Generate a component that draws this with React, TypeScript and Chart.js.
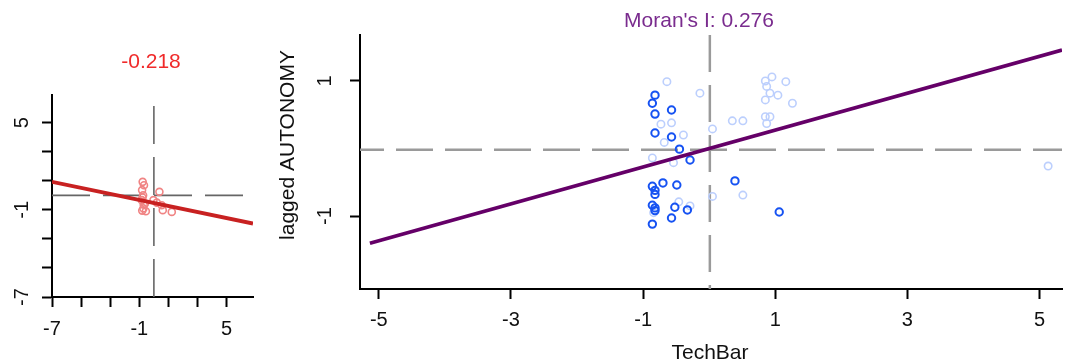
import React, { useEffect, useRef } from "react";
import { Chart, registerables } from "chart.js";

Chart.register(...registerables);

const FONT = '"Liberation Sans", Arial, Helvetica, sans-serif';

// ---------------- Left panel (local statistic, -0.218) ----------------
const leftTitle = "-0.218";
const leftPointsX = [-0.77, -0.68, -0.81, -0.74, 0.38, -0.83, -0.61, -0.72, -0.03, 0.54, 1.23, 0.61, -0.8, -0.55, -0.7, 0.2, -0.78];
const leftPointsY = [0.93, 0.7, 0.36, 0.01, 0.24, -0.33, -0.56, -0.9, -0.33, -0.68, -1.14, -1.02, -1.05, -1.1, -0.65, -0.5, -0.15];
const leftFitX = [-7, 6.81];
const leftFitY = [0.93, -1.94];
const leftXRange = [-7, 6.81];
const leftYRange = [-7, 6.91];
const leftMean = [0, 0];
const leftTicks = [-7, -5, -3, -1, 1, 3, 5];
const leftTickLabels = ["-7", "-1", "5"];

// ---------------- Right panel (Moran scatter) ----------------
const rightTitle = "Moran's I: 0.276";
const rightXLabel = "TechBar";
const rightYLabel = "lagged AUTONOMY";
const darkX = [-0.82, -0.86, -0.82, -0.57, -0.82, -0.57, -0.45, -0.29, -0.86, -0.82, -0.82, -0.7, -0.49, -0.86, -0.82, -0.82, -0.52, -0.33, -0.57, -0.86, 0.39, 1.06];
const darkY = [0.79, 0.67, 0.51, 0.57, 0.23, 0.17, -0.01, -0.17, -0.56, -0.62, -0.68, -0.51, -0.54, -0.84, -0.88, -0.92, -0.87, -0.91, -1.03, -1.12, -0.48, -0.94];
const lightX = [-0.64, -0.14, -0.73, -0.57, -0.39, -0.68, 0.05, -0.86, -0.54, 0.05, 0.51, -0.46, -0.29, -0.84, 0.85, 0.95, 1.16, 0.87, 0.92, 1.04, 0.85, 1.26, 0.85, 0.92, 0.87, 0.35, 0.51, 5.13];
const lightY = [0.99, 0.82, 0.36, 0.38, 0.2, 0.09, 0.29, -0.14, -0.21, -0.71, -0.69, -0.79, -0.85, -0.95, 1.0, 1.06, 0.99, 0.92, 0.82, 0.79, 0.72, 0.67, 0.47, 0.47, 0.37, 0.41, 0.41, -0.26];
const rightFitX = [-5.135, 5.34];
const rightFitY = [-1.404, 1.459];
const rightXRange = [-5.285, 5.34];
const rightYRange = [-2.081, 1.681];
const rightMean = [0.01, -0.02];
const rightXTicks = [-5, -3, -1, 1, 3, 5];
const rightXTickLabels = ["-5", "-3", "-1", "1", "3", "5"];
const rightYTicks = [-1, 1];
const rightYTickLabels = ["-1", "1"];

type TextSpec = {
  title: string;
  titleColor: string;
  titleX: number;
  titleY: number;
  yTicks: number[];
  yTickLabels: string[];
  yTickX: number;
  yLabel?: string;
  yLabelX?: number;
  yLabelY?: number;
  xLabel?: string;
  xLabelX?: number;
  xLabelY?: number;
};

function textPlugin(spec: TextSpec) {
  return {
    id: "rText",
    afterDraw(chart: any) {
      const ctx = chart.ctx as CanvasRenderingContext2D;
      const yScale = chart.scales.y;
      ctx.save();
      ctx.textAlign = "center";
      ctx.textBaseline = "middle";
      ctx.fillStyle = spec.titleColor;
      ctx.font = `21px ${FONT}`;
      ctx.fillText(spec.title, spec.titleX, spec.titleY);
      ctx.fillStyle = "#111";
      ctx.font = `20px ${FONT}`;
      spec.yTicks.forEach((v) => {
        const lbl = spec.yTickLabels.includes(String(v)) ? String(v) : "";
        if (!lbl) return;
        const py = yScale.getPixelForValue(v);
        ctx.save();
        ctx.translate(spec.yTickX, py);
        ctx.rotate(-Math.PI / 2);
        ctx.fillText(lbl, 0, 0);
        ctx.restore();
      });
      ctx.font = `21px ${FONT}`;
      if (spec.yLabel) {
        ctx.save();
        ctx.translate(spec.yLabelX!, spec.yLabelY!);
        ctx.rotate(-Math.PI / 2);
        ctx.fillText(spec.yLabel, 0, 0);
        ctx.restore();
      }
      if (spec.xLabel) {
        ctx.fillText(spec.xLabel, spec.xLabelX!, spec.xLabelY!);
      }
      ctx.restore();
    },
  };
}

function pts(xs: number[], ys: number[]) {
  return xs.map((x, i) => ({ x, y: ys[i] }));
}

function axisOpts(
  range: number[],
  ticks: number[],
  labels: string[],
  fitSize: number,
  horizontal: boolean,
  showLabels: boolean,
  padding: number
) {
  return {
    type: "linear",
    min: range[0],
    max: range[1],
    afterBuildTicks: (s: any) => {
      s.ticks = ticks.map((v) => ({ value: v }));
    },
    afterFit: (s: any) => {
      if (horizontal) s.height = fitSize;
      else s.width = fitSize;
    },
    ticks: {
      display: showLabels,
      autoSkip: false,
      maxRotation: 0,
      minRotation: 0,
      padding,
      color: "#111",
      font: { family: FONT, size: 20 },
      callback: (v: any) => (labels.includes(String(v)) ? String(v) : ""),
    },
    grid: {
      display: true,
      drawOnChartArea: false,
      drawTicks: true,
      tickLength: 10,
      tickWidth: 2,
      tickColor: "#000",
      color: "#000",
    },
    border: { display: true, color: "#000", width: 2 },
  };
}

function LeftPanel() {
  const ref = useRef<HTMLCanvasElement>(null);
  useEffect(() => {
    if (!ref.current) return;
    const chart = new Chart(ref.current, {
      type: "scatter",
      data: {
        datasets: [
          {
            data: pts(leftFitX, leftFitY),
            showLine: true,
            borderColor: "#C82121",
            borderWidth: 3.8,
            pointRadius: 0,
            order: 0,
          },
          {
            data: pts(leftPointsX, leftPointsY),
            borderColor: "#F08484",
            backgroundColor: "rgba(255,255,255,0)",
            pointRadius: 3.5,
            borderWidth: 1.6,
            order: 1,
          },
          {
            data: [
              { x: leftMean[0], y: leftYRange[0] },
              { x: leftMean[0], y: leftYRange[1] },
            ],
            showLine: true,
            borderColor: "#666",
            borderWidth: 1.6,
            borderDash: [38, 13],
            pointRadius: 0,
            order: 2,
          },
          {
            data: [
              { x: leftXRange[0], y: leftMean[1] },
              { x: leftXRange[1], y: leftMean[1] },
            ],
            showLine: true,
            borderColor: "#666",
            borderWidth: 1.6,
            borderDash: [38, 13],
            pointRadius: 0,
            order: 2,
          },
        ],
      } as any,
      options: {
        animation: false,
        responsive: false,
        maintainAspectRatio: false,
        layout: { padding: { left: 0, right: 17, top: 95, bottom: 0 } },
        plugins: { legend: { display: false }, tooltip: { enabled: false }, title: { display: false } },
        scales: {
          x: axisOpts(leftXRange, leftTicks, leftTickLabels, 67, true, true, 10),
          y: axisOpts(leftYRange, leftTicks, leftTickLabels, 52, false, false, 0),
        } as any,
      },
      plugins: [
        textPlugin({
          title: leftTitle,
          titleColor: "#F02A2A",
          titleX: 151,
          titleY: 62,
          yTicks: leftTicks,
          yTickLabels: leftTickLabels,
          yTickX: 22,
        }),
      ],
    });
    return () => chart.destroy();
  }, []);
  return (
    <canvas
      ref={ref}
      width={270}
      height={364}
      style={{ position: "absolute", left: 0, top: 0, width: 270, height: 364, display: "block" }}
    />
  );
}

function RightPanel() {
  const ref = useRef<HTMLCanvasElement>(null);
  useEffect(() => {
    if (!ref.current) return;
    const chart = new Chart(ref.current, {
      type: "scatter",
      data: {
        datasets: [
          {
            data: pts(rightFitX, rightFitY),
            showLine: true,
            borderColor: "#650068",
            borderWidth: 3.8,
            pointRadius: 0,
            order: 0,
          },
          {
            data: pts(darkX, darkY),
            borderColor: "#1652F2",
            backgroundColor: "rgba(255,255,255,0)",
            pointRadius: 3.7,
            borderWidth: 2,
            order: 1,
          },
          {
            data: pts(lightX, lightY),
            borderColor: "#BCCFFD",
            backgroundColor: "rgba(255,255,255,0)",
            pointRadius: 3.7,
            borderWidth: 1.6,
            order: 2,
          },
          {
            data: [
              { x: rightMean[0], y: rightYRange[1] },
              { x: rightMean[0], y: rightYRange[0] },
            ],
            showLine: true,
            borderColor: "#9a9a9a",
            borderWidth: 2.5,
            borderDash: [37, 13],
            pointRadius: 0,
            order: 3,
          },
          {
            data: [
              { x: rightXRange[0], y: rightMean[1] },
              { x: rightXRange[1], y: rightMean[1] },
            ],
            showLine: true,
            borderColor: "#9a9a9a",
            borderWidth: 2.5,
            borderDash: [37, 12],
            borderDashOffset: 13,
            pointRadius: 0,
            order: 3,
          },
        ],
      } as any,
      options: {
        animation: false,
        responsive: false,
        maintainAspectRatio: false,
        layout: { padding: { left: 0, right: 0, top: 35, bottom: 0 } },
        plugins: { legend: { display: false }, tooltip: { enabled: false }, title: { display: false } },
        scales: {
          x: axisOpts(rightXRange, rightXTicks, rightXTickLabels, 75, true, true, 9),
          y: axisOpts(rightYRange, rightYTicks, rightYTickLabels, 90, false, false, 0),
        } as any,
      },
      plugins: [
        textPlugin({
          title: rightTitle,
          titleColor: "#7A2C8E",
          titleX: 429,
          titleY: 21,
          yTicks: rightYTicks,
          yTickLabels: rightYTickLabels,
          yTickX: 55.5,
          yLabel: rightYLabel,
          yLabelX: 18,
          yLabelY: 145,
          xLabel: rightXLabel,
          xLabelX: 440,
          xLabelY: 353,
        }),
      ],
    });
    return () => chart.destroy();
  }, []);
  return (
    <canvas
      ref={ref}
      width={798}
      height={364}
      style={{ position: "absolute", left: 270, top: 0, width: 798, height: 364, display: "block" }}
    />
  );
}

export default function App() {
  return (
    <div
      style={{
        position: "fixed",
        left: 0,
        top: 0,
        width: 1068,
        height: 364,
        background: "#fff",
        overflow: "hidden",
      }}
    >
      <LeftPanel />
      <RightPanel />
    </div>
  );
}
